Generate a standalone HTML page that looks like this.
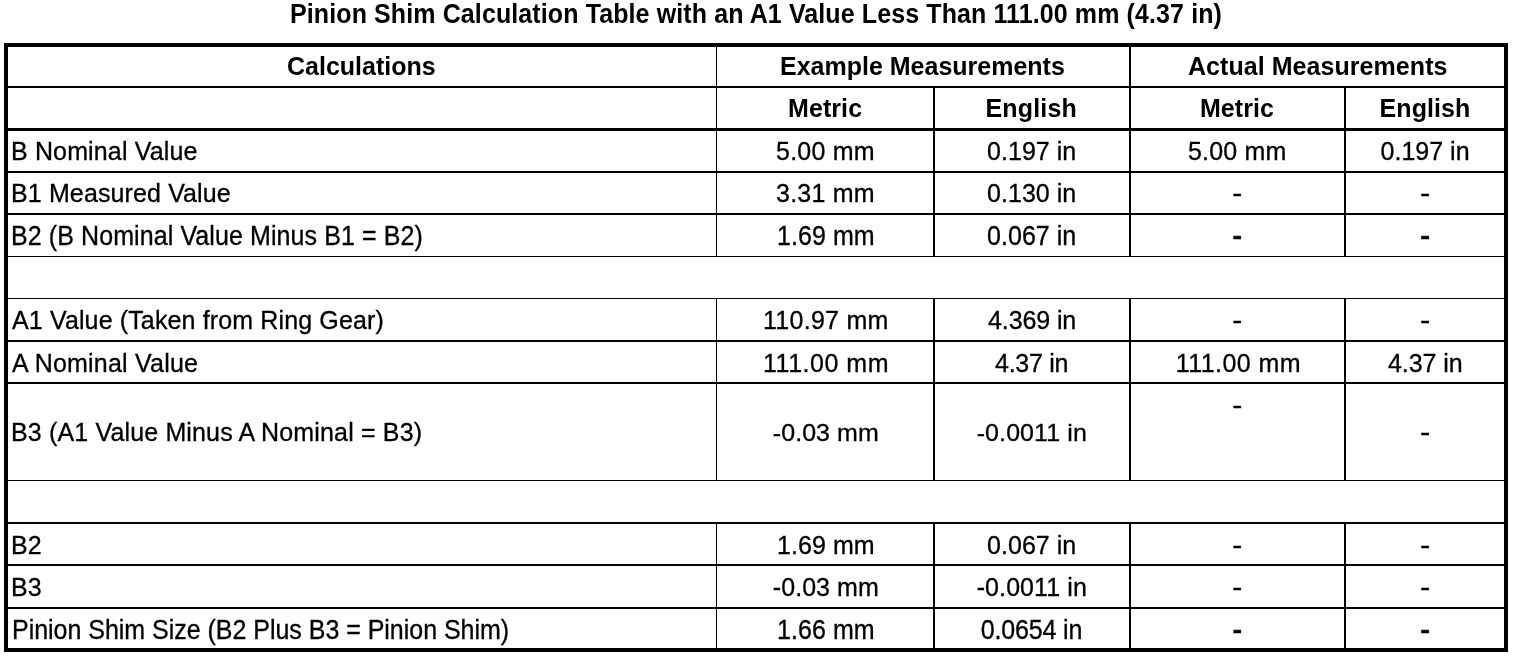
<!DOCTYPE html>
<html lang="en"><head><meta charset="utf-8"><title>Pinion Shim Calculation Table</title>
<style>
html,body{margin:0;padding:0;background:#fff;}
body{width:1520px;height:658px;position:relative;overflow:hidden;font-family:"Liberation Sans",Arial,Helvetica,sans-serif;font-size:25px;color:#000;}
.l{position:absolute;background:#000;}
.t{position:absolute;white-space:nowrap;line-height:30px;height:30px;transform-origin:0 24px;}
.r{-webkit-text-stroke:0.3px #000;}
.b{font-weight:bold;}
</style></head><body>

<div class="l" style="left:4px;top:43px;width:1504px;height:4px"></div>
<div class="l" style="left:4px;top:86px;width:1504px;height:2px"></div>
<div class="l" style="left:4px;top:128px;width:1504px;height:3px"></div>
<div class="l" style="left:4px;top:171px;width:1504px;height:2px"></div>
<div class="l" style="left:4px;top:213px;width:1504px;height:2px"></div>
<div class="l" style="left:4px;top:256px;width:1504px;height:1px"></div>
<div class="l" style="left:4px;top:298px;width:1504px;height:1px"></div>
<div class="l" style="left:4px;top:340px;width:1504px;height:2px"></div>
<div class="l" style="left:4px;top:382px;width:1504px;height:2px"></div>
<div class="l" style="left:4px;top:480px;width:1504px;height:1px"></div>
<div class="l" style="left:4px;top:522px;width:1504px;height:2px"></div>
<div class="l" style="left:4px;top:564px;width:1504px;height:2px"></div>
<div class="l" style="left:4px;top:607px;width:1504px;height:2px"></div>
<div class="l" style="left:4px;top:648px;width:1504px;height:4px"></div>
<div class="l" style="left:4px;top:43px;width:4px;height:609px"></div>
<div class="l" style="left:1504px;top:43px;width:4px;height:609px"></div>
<div class="l" style="left:716px;top:43px;width:1px;height:43px"></div>
<div class="l" style="left:1129px;top:43px;width:2px;height:43px"></div>
<div class="l" style="left:716px;top:86px;width:1px;height:42px"></div>
<div class="l" style="left:933px;top:86px;width:2px;height:42px"></div>
<div class="l" style="left:1129px;top:86px;width:2px;height:42px"></div>
<div class="l" style="left:1344px;top:86px;width:2px;height:42px"></div>
<div class="l" style="left:716px;top:128px;width:1px;height:43px"></div>
<div class="l" style="left:933px;top:128px;width:2px;height:43px"></div>
<div class="l" style="left:1129px;top:128px;width:2px;height:43px"></div>
<div class="l" style="left:1344px;top:128px;width:2px;height:43px"></div>
<div class="l" style="left:716px;top:171px;width:1px;height:42px"></div>
<div class="l" style="left:933px;top:171px;width:2px;height:42px"></div>
<div class="l" style="left:1129px;top:171px;width:2px;height:42px"></div>
<div class="l" style="left:1344px;top:171px;width:2px;height:42px"></div>
<div class="l" style="left:716px;top:213px;width:1px;height:43px"></div>
<div class="l" style="left:933px;top:213px;width:2px;height:43px"></div>
<div class="l" style="left:1129px;top:213px;width:2px;height:43px"></div>
<div class="l" style="left:1344px;top:213px;width:2px;height:43px"></div>
<div class="l" style="left:716px;top:298px;width:1px;height:42px"></div>
<div class="l" style="left:933px;top:298px;width:2px;height:42px"></div>
<div class="l" style="left:1129px;top:298px;width:2px;height:42px"></div>
<div class="l" style="left:1344px;top:298px;width:2px;height:42px"></div>
<div class="l" style="left:716px;top:340px;width:1px;height:42px"></div>
<div class="l" style="left:933px;top:340px;width:2px;height:42px"></div>
<div class="l" style="left:1129px;top:340px;width:2px;height:42px"></div>
<div class="l" style="left:1344px;top:340px;width:2px;height:42px"></div>
<div class="l" style="left:716px;top:382px;width:1px;height:98px"></div>
<div class="l" style="left:933px;top:382px;width:2px;height:98px"></div>
<div class="l" style="left:1129px;top:382px;width:2px;height:98px"></div>
<div class="l" style="left:1344px;top:382px;width:2px;height:98px"></div>
<div class="l" style="left:716px;top:522px;width:1px;height:42px"></div>
<div class="l" style="left:933px;top:522px;width:2px;height:42px"></div>
<div class="l" style="left:1129px;top:522px;width:2px;height:42px"></div>
<div class="l" style="left:1344px;top:522px;width:2px;height:42px"></div>
<div class="l" style="left:716px;top:564px;width:1px;height:43px"></div>
<div class="l" style="left:933px;top:564px;width:2px;height:43px"></div>
<div class="l" style="left:1129px;top:564px;width:2px;height:43px"></div>
<div class="l" style="left:1344px;top:564px;width:2px;height:43px"></div>
<div class="l" style="left:716px;top:607px;width:1px;height:41px"></div>
<div class="l" style="left:933px;top:607px;width:2px;height:41px"></div>
<div class="l" style="left:1129px;top:607px;width:2px;height:41px"></div>
<div class="l" style="left:1344px;top:607px;width:2px;height:41px"></div>
<div class="t b" style="left:290.00px;top:-1px;letter-spacing:0.107px;transform-origin:466.5px 24px;transform:scale(1.000,1.080);">Pinion Shim Calculation Table with an A1 Value Less Than 111.00 mm (4.37 in)</div>
<div class="t b" style="left:287.00px;top:51px;">Calculations</div>
<div class="t b" style="left:780.00px;top:51px;">Example Measurements</div>
<div class="t b" style="left:1188.00px;top:51px;letter-spacing:0.056px;">Actual Measurements</div>
<div class="t b" style="left:788.00px;top:93px;letter-spacing:0.080px;">Metric</div>
<div class="t b" style="left:985.40px;top:93px;letter-spacing:0.183px;">English</div>
<div class="t b" style="left:1200.00px;top:93px;letter-spacing:0.040px;">Metric</div>
<div class="t b" style="left:1379.50px;top:93px;letter-spacing:0.100px;">English</div>
<div class="t r" style="left:11.00px;top:136px;letter-spacing:0.143px;">B Nominal Value</div>
<div class="t r" style="left:776.00px;top:136px;letter-spacing:0.233px;">5.00 mm</div>
<div class="t r" style="left:987.00px;top:136px;letter-spacing:0.043px;">0.197 in</div>
<div class="t r" style="left:1188.00px;top:136px;letter-spacing:0.167px;">5.00 mm</div>
<div class="t r" style="left:1380.50px;top:136px;letter-spacing:0.014px;">0.197 in</div>
<div class="t r" style="left:11.00px;top:178px;letter-spacing:0.125px;">B1 Measured Value</div>
<div class="t r" style="left:776.00px;top:178px;letter-spacing:0.233px;">3.31 mm</div>
<div class="t r" style="left:987.00px;top:178px;letter-spacing:0.043px;">0.130 in</div>
<div class="t r" style="left:1233.00px;top:178px;transform-origin:4.0px 24px;transform:scale(1.200,1.000);">-</div>
<div class="t r" style="left:1420.80px;top:178px;transform-origin:4.0px 24px;transform:scale(1.233,1.000);">-</div>
<div class="t r" style="left:11.00px;top:221px;letter-spacing:0.091px;transform-origin:206.0px 24px;transform:scale(1.000,1.080);">B2 (B Nominal Value Minus B1 = B2)</div>
<div class="t r" style="left:777.00px;top:221px;letter-spacing:0.067px;transform-origin:49.0px 24px;transform:scale(1.000,1.080);">1.69 mm</div>
<div class="t r" style="left:987.00px;top:221px;letter-spacing:0.043px;transform-origin:44.5px 24px;transform:scale(1.000,1.080);">0.067 in</div>
<div class="t r" style="left:1233.00px;top:220px;transform-origin:4.0px 18px;transform:scale(1.200,1.5);">-</div>
<div class="t r" style="left:1420.80px;top:220px;transform-origin:4.0px 18px;transform:scale(1.233,1.5);">-</div>
<div class="t r" style="left:12.00px;top:305px;letter-spacing:0.133px;">A1 Value (Taken from Ring Gear)</div>
<div class="t r" style="left:763.00px;top:305px;letter-spacing:0.275px;">110.97 mm</div>
<div class="t r" style="left:988.00px;top:305px;letter-spacing:-0.100px;">4.369 in</div>
<div class="t r" style="left:1233.00px;top:305px;transform-origin:4.0px 24px;transform:scale(1.200,1.000);">-</div>
<div class="t r" style="left:1420.80px;top:305px;transform-origin:4.0px 24px;transform:scale(1.233,1.000);">-</div>
<div class="t r" style="left:12.00px;top:348px;letter-spacing:0.214px;">A Nominal Value</div>
<div class="t r" style="left:763.00px;top:348px;letter-spacing:0.525px;">111.00 mm</div>
<div class="t r" style="left:995.00px;top:348px;letter-spacing:-0.267px;">4.37 in</div>
<div class="t r" style="left:1175.80px;top:348px;letter-spacing:0.438px;">111.00 mm</div>
<div class="t r" style="left:1388.00px;top:348px;letter-spacing:-0.083px;">4.37 in</div>
<div class="t r" style="left:11.00px;top:417px;letter-spacing:0.152px;">B3 (A1 Value Minus A Nominal = B3)</div>
<div class="t r" style="left:772.80px;top:417px;letter-spacing:0.057px;transform-origin:53.0px 24px;transform:scale(1.000,0.970);">-0.03 mm</div>
<div class="t r" style="left:976.70px;top:417px;letter-spacing:0.089px;transform-origin:55.0px 24px;transform:scale(1.000,0.970);">-0.0011 in</div>
<div class="t r" style="left:1233.00px;top:390px;transform-origin:4.0px 24px;transform:scale(1.200,1.000);">-</div>
<div class="t r" style="left:1420.80px;top:417px;transform-origin:4.0px 24px;transform:scale(1.233,1.000);">-</div>
<div class="t r" style="left:11.00px;top:530px;">B2</div>
<div class="t r" style="left:777.00px;top:530px;letter-spacing:0.067px;">1.69 mm</div>
<div class="t r" style="left:987.00px;top:530px;letter-spacing:0.043px;">0.067 in</div>
<div class="t r" style="left:1233.00px;top:530px;transform-origin:4.0px 24px;transform:scale(1.200,1.000);">-</div>
<div class="t r" style="left:1420.80px;top:530px;transform-origin:4.0px 24px;transform:scale(1.233,1.000);">-</div>
<div class="t r" style="left:11.00px;top:572px;">B3</div>
<div class="t r" style="left:772.80px;top:572px;letter-spacing:0.057px;">-0.03 mm</div>
<div class="t r" style="left:976.70px;top:572px;letter-spacing:0.089px;">-0.0011 in</div>
<div class="t r" style="left:1233.00px;top:572px;transform-origin:4.0px 24px;transform:scale(1.200,1.000);">-</div>
<div class="t r" style="left:1420.80px;top:572px;transform-origin:4.0px 24px;transform:scale(1.233,1.000);">-</div>
<div class="t r" style="left:12.00px;top:615px;letter-spacing:-0.024px;transform-origin:249.0px 24px;transform:scale(1.000,1.080);">Pinion Shim Size (B2 Plus B3 = Pinion Shim)</div>
<div class="t r" style="left:777.00px;top:615px;letter-spacing:0.067px;transform-origin:49.0px 24px;transform:scale(1.000,1.080);">1.66 mm</div>
<div class="t r" style="left:980.70px;top:615px;letter-spacing:-0.150px;transform-origin:50.5px 24px;transform:scale(1.000,1.080);">0.0654 in</div>
<div class="t r" style="left:1233.00px;top:614px;transform-origin:4.0px 18px;transform:scale(1.200,1.5);">-</div>
<div class="t r" style="left:1420.80px;top:614px;transform-origin:4.0px 18px;transform:scale(1.233,1.5);">-</div>
</body></html>
